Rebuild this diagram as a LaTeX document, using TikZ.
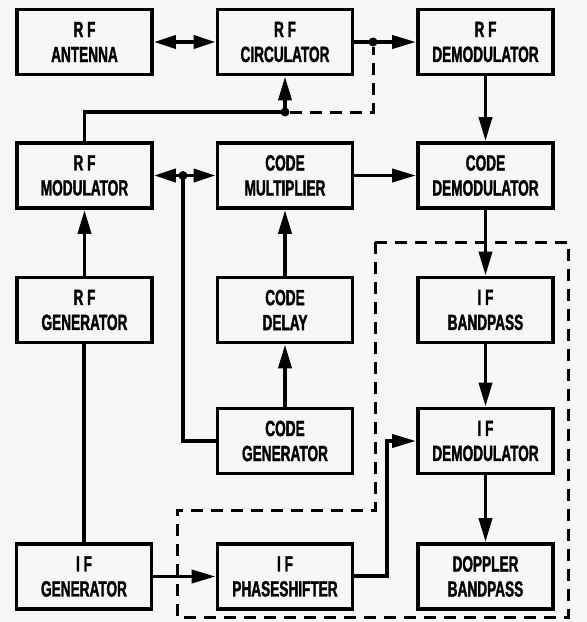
\documentclass[tikz,border=0pt]{standalone}
\usepackage{fontspec}
\newfontfamily\boxfont{Liberation Sans}[FakeStretch=0.62, FakeBold=1.5]
\usetikzlibrary{arrows.meta}
\begin{document}
\begin{tikzpicture}[x=1pt,y=-1pt,
  blk/.style={draw, line width=3.8pt, minimum width=135pt, minimum height=65pt,
    align=center, inner sep=0pt, font=\boxfont\bfseries\fontsize{22}{25}\selectfont},
  conn/.style={line width=3.8pt, -{Triangle[length=24pt,width=13pt]}},
  bidir/.style={line width=3.8pt, {Triangle[length=22pt,width=13pt]}-{Triangle[length=22pt,width=13pt]}},
  plain/.style={line width=3.8pt},
  dashline/.style={line width=3pt, dash pattern=on 12pt off 8pt},
  dot/.style={circle, fill=black, inner sep=0pt, minimum size=9pt}
]
\useasboundingbox[fill=black!3] (0,0) rectangle (587,622);

\node[blk] (ant)  at (84.5,42)   {R F\\ANTENNA};
\node[blk] (circ) at (285,42)    {R F\\CIRCULATOR};
\node[blk] (rfd)  at (485.5,42)  {R F\\DEMODULATOR};
\node[blk] (rfm)  at (84.5,175.5) {R F\\MODULATOR};
\node[blk] (cm)   at (285,175.5) {CODE\\MULTIPLIER};
\node[blk] (cd)   at (485.5,175.5) {CODE\\DEMODULATOR};
\node[blk] (rfg)  at (84.5,310)  {R F\\GENERATOR};
\node[blk] (cdl)  at (285,310)   {CODE\\DELAY};
\node[blk] (ifb)  at (485.5,310) {I F\\BANDPASS};
\node[blk] (cg)   at (285,441)   {CODE\\GENERATOR};
\node[blk] (ifd)  at (485.5,441) {I F\\DEMODULATOR};
\node[blk] (ifg)  at (84,576.5)  {I F\\GENERATOR};
\node[blk] (ifp)  at (285,576.5) {I F\\PHASESHIFTER};
\node[blk] (dop)  at (485.5,576.5) {DOPPLER\\BANDPASS};

% junctions
\node[dot] (j1) at (373,42) {};
\node[dot] (j2) at (285,112) {};
\node[dot] (j3) at (183,175.5) {};
\coordinate (c1) at (84.5,112);
\coordinate (c2) at (373,112);
\coordinate (c3) at (183,441);
\coordinate (c4) at (387,576);
\coordinate (c5) at (387,441);

% dashed boundary corners
\coordinate (d1) at (375,242);
\coordinate (d2) at (568,242);
\coordinate (d3) at (568,617);
\coordinate (d4) at (177,617);
\coordinate (d5) at (177,510);
\coordinate (d6) at (375,510);

\draw[bidir] (ant) -- (circ);
\draw[conn] (circ) -- (rfd);
\draw[conn] (rfd) -- (cd);
\draw[plain] (rfm.north) -- (c1) -- (j2.center);
\draw[conn] (j2.center) -- (circ.south);
\draw[dashline] (j2) -- (c2) -- (j1);
\draw[bidir] (rfm) -- (cm);
\draw[plain] (cg.west) -- (c3) -- (j3.center);
\draw[conn] (cm) -- (cd);
\draw[conn] (cdl) -- (cm);
\draw[conn] (cg) -- (cdl);
\draw[conn] (rfg) -- (rfm);
\draw[plain] (ifg.north) -- (rfg.south -| ifg.north);
\draw[conn] (ifg) -- (ifp);
\draw[conn] (ifp.east |- c4) -- (c4) -- (c5) -- (ifd.west);
\draw[conn] (cd) -- (ifb);
\draw[conn] (ifb) -- (ifd);
\draw[conn] (ifd) -- (dop);
\draw[dashline] (d1) -- (d2) -- (d3) -- (d4) -- (d5) -- (d6) -- cycle;
\end{tikzpicture}
\end{document}
